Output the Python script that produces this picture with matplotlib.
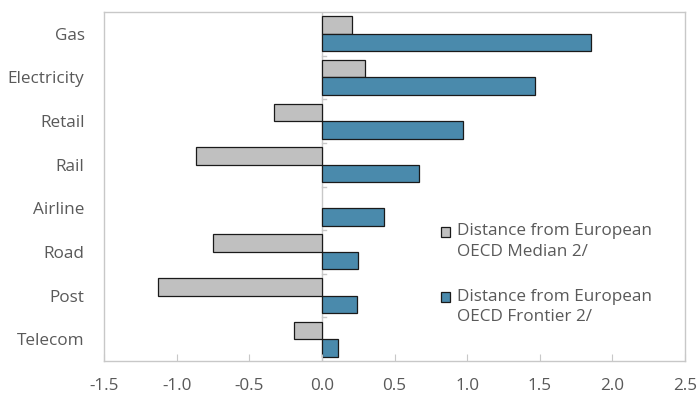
import matplotlib
matplotlib.use('Agg')
import matplotlib.pyplot as plt
from matplotlib.patches import Rectangle
import numpy as np

plt.rcParams['font.family'] = ['Open Sans', 'DejaVu Sans']

# 数据
sectors = ['Gas', 'Electricity', 'Retail', 'Rail', 'Airline', 'Road', 'Post', 'Telecom']
median_gap = [0.21, 0.30, -0.33, -0.87, np.nan, -0.75, -1.13, -0.19]
frontier_gap = [1.85, 1.47, 0.97, 0.67, 0.43, 0.25, 0.245, 0.11]
xticks = [-1.5, -1.0, -0.5, 0.0, 0.5, 1.0, 1.5, 2.0, 2.5]
labels = ['Distance from European\nOECD Median 2/', 'Distance from European\nOECD Frontier 2/']
colors = ['#c0c0c0', '#4a8aac']

text_color = '#595959'
frame_color = '#c8c8c8'
edge = '#1a1a1a'
fs = 12.3

fig = plt.figure(figsize=(6.97, 3.95), dpi=100)
ax = fig.add_axes([104 / 697, 34 / 395, 581 / 697, 349 / 395])

y = np.arange(len(sectors))
h = 0.4
ax.barh(y - h / 2, median_gap, height=h, color=colors[0], edgecolor=edge, linewidth=0.9)
ax.barh(y + h / 2, frontier_gap, height=h, color=colors[1], edgecolor=edge, linewidth=0.9)

ax.set_xlim(-1.5, 2.5)
ax.set_ylim(len(sectors) - 0.5, -0.5)

# 零轴线和类别分隔刻度
ax.axvline(0, color=frame_color, linewidth=1, zorder=0)
for b in np.arange(0.5, len(sectors) - 0.5, 1):
    ax.plot([0, 0.025], [b, b], color=frame_color, linewidth=1, zorder=0)

ax.set_xticks(xticks)
ax.set_xticklabels([f'{v:.1f}' for v in xticks])
ax.set_yticks(y)
ax.set_yticklabels(sectors)
ax.tick_params(axis='x', direction='in', length=5, color=frame_color, pad=12,
               labelsize=fs, labelcolor=text_color)
ax.tick_params(axis='y', length=0, pad=14, labelsize=fs, labelcolor=text_color)

for s in ax.spines.values():
    s.set_color(frame_color)
    s.set_linewidth(1)

# 图例（手动绘制，方块对齐第一行）
for i, (lab, c) in enumerate(zip(labels, colors)):
    yc = 0.37 - i * 0.187
    ax.add_patch(Rectangle((0.58, yc - 0.0135), 0.016, 0.027, transform=ax.transAxes,
                           facecolor=c, edgecolor=edge, linewidth=0.9, clip_on=False))
    ax.text(0.607, yc + 0.024, lab, transform=ax.transAxes, va='top', ha='left',
            fontsize=fs, color=text_color, linespacing=1.35)

fig.savefig('out.png', dpi=100)
